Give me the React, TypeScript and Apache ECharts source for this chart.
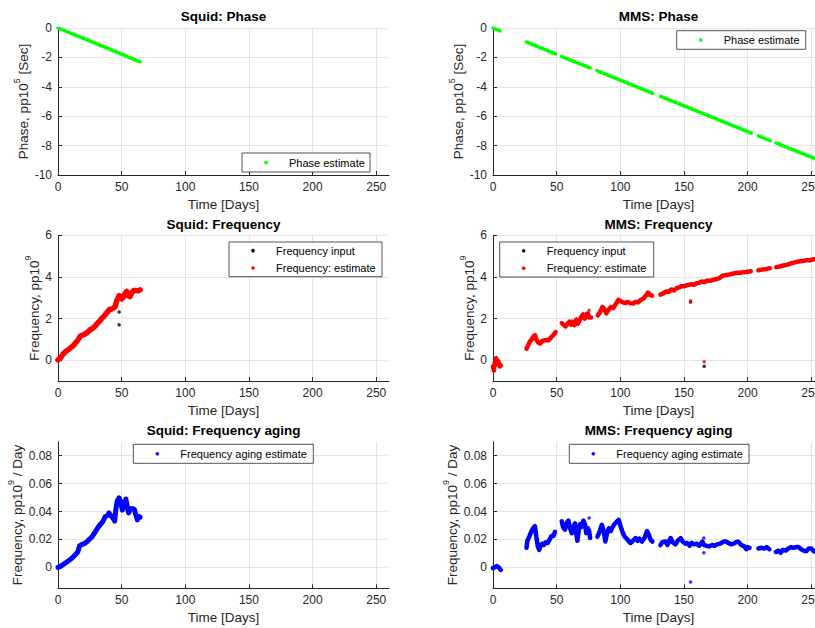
import React, { useEffect, useRef } from "react";
import * as echarts from "echarts";

// ---------- tick values ----------
const xTicks = [0, 50, 100, 150, 200, 250];
const phaseTicks = [-10, -8, -6, -4, -2, 0];
const freqTicks = [0, 2, 4, 6];
const agingTicks = [0, 0.02, 0.04, 0.06, 0.08];

// ---------- Squid ----------
const squidPhase = [[0, 0], [20, -0.71], [40, -1.42], [64.5, -2.3]];

const squidFreqEstimate = [
  [0, 0.02], [2, 0.12], [4, 0.3], [6, 0.42], [8, 0.5], [10, 0.6], [12, 0.7], [14, 0.85],
  [16, 1.0], [17.5, 1.15], [19, 1.2], [21, 1.25], [23, 1.33], [25, 1.45], [27, 1.52],
  [29, 1.62], [31, 1.78], [33, 1.9], [35, 2.05], [37, 2.18], [39, 2.32], [40.5, 2.45],
  [42, 2.45], [43.5, 2.5], [45, 2.58], [46, 2.85], [47, 2.95], [48, 3.1], [49, 3.05],
  [50, 2.95], [51.5, 3.05], [53, 3.25], [54, 3.3], [55, 3.1], [56.5, 3.05], [58, 3.25],
  [59.5, 3.35], [61, 3.35], [63, 3.33], [64.5, 3.38],
];
const squidFreqInput = [[48, 2.32], [48, 1.7]];

const squidAging = [
  [0, 0], [2, 0.0007], [4, 0.002], [6, 0.0032], [8, 0.0045], [10, 0.0058], [12, 0.0075],
  [14, 0.0095], [15.5, 0.011], [17, 0.0155], [19, 0.0165], [21, 0.0172], [23, 0.0185],
  [25, 0.0205], [27, 0.0222], [29, 0.025], [31, 0.028], [33, 0.0305], [35, 0.0325],
  [37, 0.0362], [39, 0.0372], [40, 0.039], [41.5, 0.037], [43, 0.0355], [44.5, 0.0332],
  [45.5, 0.042], [46.5, 0.0475], [48, 0.0498], [49.3, 0.047], [50.5, 0.041], [52, 0.044],
  [53.3, 0.049], [54.5, 0.043], [55.5, 0.039], [57, 0.042], [58.5, 0.042], [60, 0.0415],
  [61, 0.038], [62.3, 0.034], [63.3, 0.0365], [64.5, 0.036],
];

// ---------- MMS phase (segments) ----------
const mmsPhase1 = [[0, 0], [5.6, -0.2]];
const mmsPhase2 = [[26.3, -0.95], [49, -1.76]];
const mmsPhase3 = [[54, -1.94], [76.3, -2.72]];
const mmsPhase4 = [[81.6, -2.9], [125.5, -4.44]];
const mmsPhase5 = [[131.6, -4.65], [203, -7.15]];
const mmsPhase6 = [[208.4, -7.34], [217.8, -7.67]];
const mmsPhase7 = [[222.3, -7.82], [256, -9.0]];
const mmsPhaseSegments = [mmsPhase1, mmsPhase2, mmsPhase3, mmsPhase4, mmsPhase5, mmsPhase6, mmsPhase7];

// ---------- MMS frequency (segments) ----------
const mmsFreq1 = [[0, -0.3], [0.7, -0.5], [1.5, -0.1], [2.5, 0.1], [3.3, -0.2], [4.2, -0.05], [5.2, -0.3], [6.2, -0.25]];
const mmsFreq2 = [
  [26.3, 0.55], [27.5, 0.7], [29, 0.9], [30.5, 1.0], [31.5, 1.12], [33, 1.2], [34, 1.0],
  [35.5, 0.85], [37, 0.8], [38.5, 0.92], [40, 0.95], [42, 0.97], [43.5, 0.95], [45, 1.05],
  [46.5, 1.15], [48, 1.25], [49.2, 1.35],
];
const mmsFreq3 = [
  [54, 1.78], [55.5, 1.7], [57, 1.62], [58.5, 1.75], [60, 1.85], [61.3, 1.7], [62.5, 1.85],
  [64, 1.68], [65.5, 1.95], [66.5, 1.75], [68, 1.9], [69.5, 2.1], [70.8, 2.2], [72, 2.0],
  [73.3, 2.2], [74.5, 2.25], [75.5, 2.05], [77, 2.05],
];
const mmsFreq4 = [
  [82.3, 2.15], [84, 2.3], [86, 2.55], [87.5, 2.45], [89, 2.25], [90.5, 2.4], [92.5, 2.55],
  [94.5, 2.5], [96.5, 2.7], [98.5, 2.9], [100, 2.85], [102, 2.78], [104, 2.75], [106, 2.8],
  [108, 2.73], [110, 2.72], [112, 2.8], [114, 2.78], [116, 2.9], [118, 2.95], [120, 3.1],
  [121.7, 3.25], [123, 3.15], [125, 3.1],
];
const mmsFreq5 = [
  [131.5, 3.15], [134, 3.22], [136, 3.3], [138, 3.28], [140, 3.4], [142, 3.35], [144, 3.45],
  [146, 3.5], [148, 3.55], [150, 3.55], [152, 3.6], [154, 3.62], [156, 3.65], [158, 3.62],
  [160, 3.7], [162, 3.72], [164, 3.78], [166, 3.75], [168, 3.82], [170, 3.82], [172, 3.84],
  [174, 3.88], [176, 3.9], [178, 3.95], [180, 4.05], [182, 4.08], [184, 4.1], [186, 4.12],
  [188, 4.15], [190, 4.18], [192, 4.2], [194, 4.2], [196, 4.22], [198, 4.23], [200, 4.25],
  [202.5, 4.27],
];
const mmsFreq6 = [[208.5, 4.32], [211, 4.35], [213, 4.37], [215, 4.38], [217.5, 4.42]];
const mmsFreq7 = [
  [222.5, 4.47], [225, 4.5], [228, 4.55], [231, 4.58], [234, 4.65], [237, 4.7], [240, 4.74],
  [243, 4.76], [246, 4.8], [249, 4.8], [252, 4.85], [256, 4.85],
];
const mmsFreqSegments = [mmsFreq1, mmsFreq2, mmsFreq3, mmsFreq4, mmsFreq5, mmsFreq6, mmsFreq7];
const mmsFreqEstimateOutliers = [[75.5, 2.4], [155.2, 2.85], [165.9, -0.07]];
const mmsFreqInput = [[155.2, 2.8], [165.9, -0.29]];

// ---------- MMS aging (segments) ----------
const mmsAging1 = [[0, -0.0005], [1.5, 0.0003], [3, 0.0009], [4.5, 0.0], [6, -0.0018]];
const mmsAging2 = [
  [26.3, 0.014], [27, 0.019], [28.5, 0.022], [30, 0.0255], [31.5, 0.028], [32.9, 0.0295],
  [34, 0.022], [35.2, 0.015], [36.3, 0.0125], [37.5, 0.016], [38.8, 0.017], [40, 0.016],
  [41.5, 0.018], [43, 0.0175], [44.5, 0.02], [46, 0.0225], [47.5, 0.0225], [48.7, 0.0255],
];
const mmsAging3 = [
  [54, 0.033], [55, 0.029], [56.5, 0.027], [58, 0.032], [59.2, 0.0335], [60.5, 0.028],
  [61.9, 0.0245], [63, 0.029], [64.5, 0.0315], [65.5, 0.024], [66.3, 0.019], [67.3, 0.026],
  [68.4, 0.031], [69.5, 0.029], [71, 0.0335], [72.2, 0.031], [73.3, 0.0245], [74.5, 0.028],
  [75.5, 0.026], [76.3, 0.021],
];
const mmsAging4 = [
  [82, 0.022], [83.5, 0.025], [85.5, 0.0305], [87, 0.026], [88.2, 0.0185], [89.5, 0.024],
  [91, 0.028], [92.5, 0.026], [94, 0.029], [95.5, 0.031], [97, 0.0325], [98.7, 0.034],
  [100, 0.03], [101.5, 0.026], [103, 0.0225], [104.5, 0.021], [106, 0.0195], [108, 0.0175],
  [110, 0.019], [112, 0.021], [113.5, 0.019], [115, 0.0205], [117, 0.0185], [119, 0.021],
  [121, 0.026], [122.5, 0.023], [124, 0.0195], [125.2, 0.0185],
];
const mmsAging5 = [
  [131.5, 0.016], [133, 0.018], [135.5, 0.0185], [137, 0.016], [139.5, 0.021], [141, 0.018],
  [143.4, 0.0165], [145, 0.019], [147.4, 0.021], [149, 0.0185], [151, 0.017], [152.6, 0.0175],
  [154.5, 0.0155], [156, 0.0175], [158, 0.0165], [160, 0.017], [162, 0.0155], [164.5, 0.0185],
  [165.7, 0.016], [167.5, 0.0155], [169.7, 0.015], [172, 0.016], [174, 0.0155], [176.3, 0.0165],
  [178.5, 0.017], [181, 0.0185], [183, 0.0185], [185, 0.0175], [187, 0.0165], [189, 0.017],
  [191, 0.018], [192.5, 0.0185], [194.5, 0.0165], [196, 0.0155], [197.5, 0.015], [199, 0.013],
  [200, 0.0145], [201.5, 0.014],
];
const mmsAging6 = [[208.5, 0.0135], [211, 0.014], [213, 0.0135], [215, 0.0145], [217, 0.013]];
const mmsAging7 = [
  [222.3, 0.011], [224, 0.012], [226, 0.0105], [227.6, 0.0125], [230, 0.012], [232, 0.0135],
  [234, 0.0145], [236, 0.014], [238, 0.0145], [240, 0.0145], [242, 0.013], [244, 0.012],
  [246, 0.0115], [248, 0.0135], [250, 0.0135], [252, 0.0115], [254, 0.011], [256, 0.0115],
];
const mmsAgingSegments = [mmsAging1, mmsAging2, mmsAging3, mmsAging4, mmsAging5, mmsAging6, mmsAging7];
const mmsAgingOutliers = [[75.5, 0.0353], [155.2, -0.0105], [165.6, 0.021], [165.6, 0.0105]];

// ---------- styling ----------
const FONT = "'Liberation Sans', Arial, Helvetica, sans-serif";
const AXIS_COLOR = "#262626";
const GRID_COLOR = "#e4e4e4";
const GREEN = "#00ff00";
const RED = "#ff0000";
const BLUE = "#0000ff";
const BLACK = "#000000";

const gridLeft = [58, 493];
const gridRows = [
  { top: 28, height: 147 },
  { top: 235.3, height: 145.7 },
  { top: 441.7, height: 146.6 },
];
const GRID_W = 331;

function makeXAxis(i: number) {
  return {
    type: "value",
    gridIndex: i,
    min: 0,
    max: 260,
    name: "Time [Days]",
    nameLocation: "middle",
    nameGap: 22,
    nameTextStyle: { color: AXIS_COLOR, fontSize: 13.5, fontFamily: FONT },
    axisLine: { show: true, onZero: false, lineStyle: { color: AXIS_COLOR, width: 1 } },
    axisTick: { show: true, inside: true, length: 4, customValues: xTicks, lineStyle: { color: AXIS_COLOR } },
    axisLabel: { customValues: xTicks, margin: 6, color: AXIS_COLOR, fontSize: 12, fontFamily: FONT },
    splitLine: { show: true, lineStyle: { color: GRID_COLOR, width: 1 } },
  };
}

function makeYAxis(i: number, min: number, max: number, ticks: number[], name: string, nameGap: number) {
  return {
    type: "value",
    gridIndex: i,
    min,
    max,
    name,
    nameLocation: "middle",
    nameRotate: 90,
    nameGap,
    nameTextStyle: {
      color: AXIS_COLOR,
      fontSize: 13.5,
      fontFamily: FONT,
      rich: {
        t: { fontSize: 13.5, fontFamily: FONT, color: AXIS_COLOR, lineHeight: 18, verticalAlign: "bottom" },
        s: { fontSize: 9, fontFamily: FONT, color: AXIS_COLOR, lineHeight: 10, verticalAlign: "top" },
      },
    },
    axisLine: { show: true, onZero: false, lineStyle: { color: AXIS_COLOR, width: 1 } },
    axisTick: { show: true, inside: true, length: 4, customValues: ticks, lineStyle: { color: AXIS_COLOR } },
    axisLabel: { customValues: ticks, margin: 6, color: AXIS_COLOR, fontSize: 12, fontFamily: FONT },
    splitLine: { show: true, lineStyle: { color: GRID_COLOR, width: 1 } },
  };
}

function band(i: number, data: number[][], color: string, width: number) {
  return {
    type: "line",
    xAxisIndex: i,
    yAxisIndex: i,
    data,
    symbol: "none",
    showSymbol: false,
    silent: true,
    clip: true,
    z: 3,
    lineStyle: { color, width, cap: "round", join: "round" },
  };
}

function dots(i: number, data: number[][], color: string, z: number) {
  return {
    type: "scatter",
    xAxisIndex: i,
    yAxisIndex: i,
    data,
    symbol: "circle",
    symbolSize: 3.5,
    silent: true,
    z,
    itemStyle: { color },
  };
}

function legendBox(x: number, y: number, w: number, h: number, entries: { color: string; label: string }[]) {
  const els: any[] = [
    {
      type: "rect",
      z: 100,
      shape: { x, y, width: w, height: h },
      style: { fill: "#ffffff", stroke: AXIS_COLOR, lineWidth: 0.8 },
    },
  ];
  const rowH = h / entries.length;
  entries.forEach((e, k) => {
    const cy = y + rowH * (k + 0.5);
    els.push({ type: "circle", z: 101, shape: { cx: x + 24, cy, r: 1.8 }, style: { fill: e.color } });
    els.push({
      type: "text",
      z: 101,
      x: x + 47,
      y: cy,
      style: { text: e.label, fill: "#000", fontSize: 11, fontFamily: FONT, align: "left", verticalAlign: "middle" },
    });
  });
  return els;
}

function titleText(cx: number, cy: number, text: string) {
  return {
    type: "text",
    z: 100,
    x: cx,
    y: cy,
    style: { text, fill: "#000", fontSize: 13.5, fontWeight: "bold", fontFamily: FONT, align: "center", verticalAlign: "middle" },
  };
}

export default function App() {
  const ref = useRef<HTMLDivElement>(null);
  useEffect(() => {
    if (!ref.current) return;
    const chart = echarts.init(ref.current, undefined, { renderer: "svg" });

    const grids: any[] = [];
    for (let r = 0; r < 3; r++) {
      for (let c = 0; c < 2; c++) {
        grids.push({
          left: gridLeft[c],
          top: gridRows[r].top,
          width: GRID_W,
          height: gridRows[r].height,
          outerBoundsMode: "none",
          containLabel: false,
          show: false,
        });
      }
    }

    const phaseName = "{t|Phase, pp10}{s|5}{t| [Sec]}";
    const freqName = "{t|Frequency, pp10}{s|9}";
    const agingName = "{t|Frequency, pp10}{s|9}{t| / Day}";

    const xAxes = [0, 1, 2, 3, 4, 5].map((i) => makeXAxis(i));
    const yAxes = [
      makeYAxis(0, -10, 0, phaseTicks, phaseName, 22),
      makeYAxis(1, -10, 0, phaseTicks, phaseName, 22),
      makeYAxis(2, -1, 6, freqTicks, freqName, 15),
      makeYAxis(3, -1, 6, freqTicks, freqName, 15),
      makeYAxis(4, -0.015, 0.09, agingTicks, agingName, 30),
      makeYAxis(5, -0.015, 0.09, agingTicks, agingName, 30),
    ];

    const series: any[] = [];
    series.push(band(0, squidPhase, GREEN, 3.5));
    mmsPhaseSegments.forEach((s) => series.push(band(1, s, GREEN, 3.5)));
    series.push(dots(2, squidFreqInput, BLACK, 2));
    series.push(band(2, squidFreqEstimate, RED, 5.5));
    series.push(dots(3, mmsFreqInput, BLACK, 2));
    mmsFreqSegments.forEach((s) => series.push(band(3, s, RED, 4.5)));
    series.push(dots(3, mmsFreqEstimateOutliers, RED, 3));
    series.push(band(4, squidAging, BLUE, 5));
    mmsAgingSegments.forEach((s) => series.push(band(5, s, BLUE, 4.5)));
    series.push(dots(5, mmsAgingOutliers, BLUE, 3));

    const cxL = gridLeft[0] + GRID_W / 2;
    const cxR = 658.5;
    const graphics: any[] = [
      titleText(cxL, 16, "Squid: Phase"),
      titleText(cxR, 16, "MMS: Phase"),
      titleText(cxL, 224, "Squid: Frequency"),
      titleText(cxR, 224, "MMS: Frequency"),
      titleText(cxL, 430.5, "Squid: Frequency aging"),
      titleText(cxR, 430.5, "MMS: Frequency aging"),
      ...legendBox(242, 153, 128, 19, [{ color: GREEN, label: "Phase estimate" }]),
      ...legendBox(676.7, 30.7, 129, 18.6, [{ color: GREEN, label: "Phase estimate" }]),
      ...legendBox(229, 242, 153, 34.7, [
        { color: BLACK, label: "Frequency input" },
        { color: RED, label: "Frequency: estimate" },
      ]),
      ...legendBox(499.7, 242, 154, 35, [
        { color: BLACK, label: "Frequency input" },
        { color: RED, label: "Frequency: estimate" },
      ]),
      ...legendBox(133.3, 444.3, 180, 19, [{ color: BLUE, label: "Frequency aging estimate" }]),
      ...legendBox(569.3, 444.3, 179.7, 19, [{ color: BLUE, label: "Frequency aging estimate" }]),
    ];

    chart.setOption({
      animation: false,
      backgroundColor: "#ffffff",
      textStyle: { fontFamily: FONT },
      grid: grids,
      xAxis: xAxes,
      yAxis: yAxes,
      series,
      graphic: { elements: graphics },
    });

    return () => chart.dispose();
  }, []);

  return (
    <div
      ref={ref}
      style={{ position: "absolute", left: 0, top: 0, width: 815, height: 628, background: "#fff" }}
    />
  );
}
